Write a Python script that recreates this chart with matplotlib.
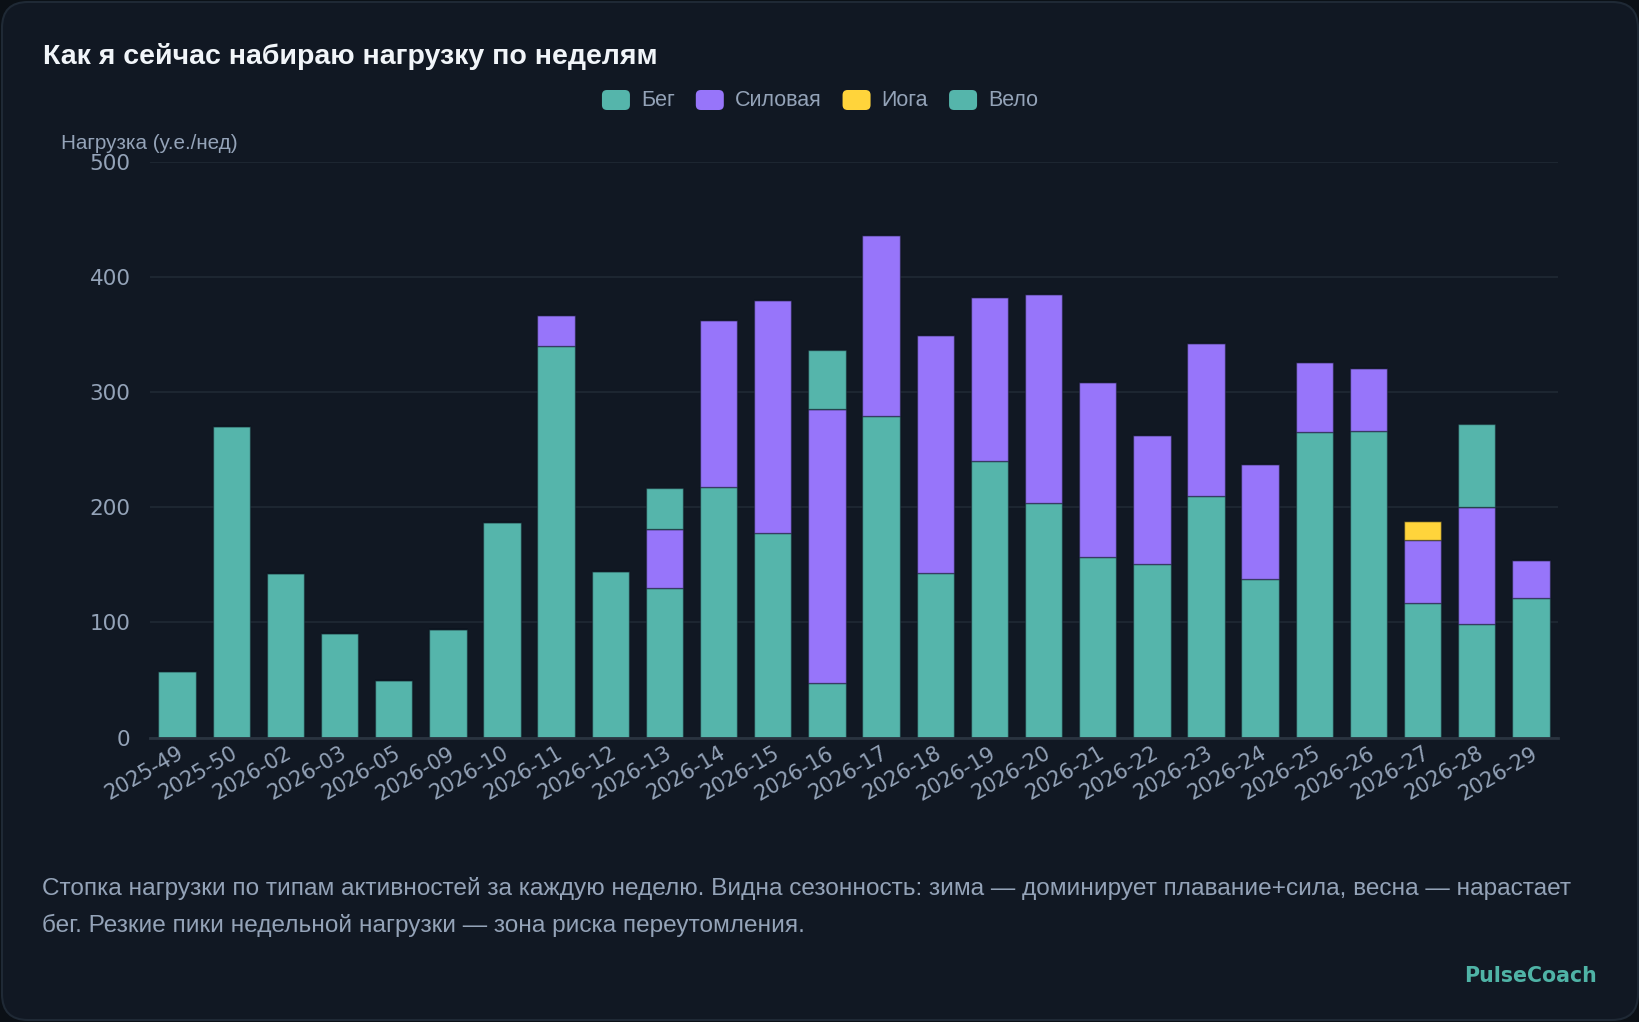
import matplotlib
matplotlib.use("Agg")
import matplotlib.pyplot as plt
import matplotlib.transforms as mtransforms
from matplotlib.patches import FancyBboxPatch
import numpy as np

# данные по неделям (читаются с графика)
weeks = ['2025-49', '2025-50', '2026-02', '2026-03', '2026-05', '2026-09', '2026-10',
         '2026-11', '2026-12', '2026-13', '2026-14', '2026-15', '2026-16', '2026-17',
         '2026-18', '2026-19', '2026-20', '2026-21', '2026-22', '2026-23', '2026-24',
         '2026-25', '2026-26', '2026-27', '2026-28', '2026-29']
run = [58, 271, 143, 91, 50, 94, 187, 340, 145, 130, 218, 178, 47, 279,
       143, 240, 204, 157, 151, 210, 138, 265, 266, 117, 99, 121]
strength = [0, 0, 0, 0, 0, 0, 0, 27, 0, 51, 145, 202, 238, 158,
            207, 143, 181, 152, 112, 133, 100, 61, 55, 55, 101, 33]
yoga = [0, 0, 0, 0, 0, 0, 0, 0, 0, 0, 0, 0, 0, 0,
        0, 0, 0, 0, 0, 0, 0, 0, 0, 16, 0, 0]
bike = [0, 0, 0, 0, 0, 0, 0, 0, 0, 36, 0, 0, 52, 0,
        0, 0, 0, 0, 0, 0, 0, 0, 0, 0, 72, 0]

series_names = ['Бег', 'Силовая', 'Иога', 'Вело']
series_colors = ['#55b5ab', '#9775fa', '#ffd43b', '#55b5ab']

title = 'Как я сейчас набираю нагрузку по неделям'
y_label = 'Нагрузка (у.е./нед)'
caption_lines = ['Стопка нагрузки по типам активностей за каждую неделю. Видна сезонность: зима — доминирует плавание+сила, весна — нарастает',
                 'бег. Резкие пики недельной нагрузки — зона риска переутомления.']
brand = 'PulseCoach'

W, H = 1640, 1022
BG_OUT = '#0b1016'
BG_CARD = '#111823'
TXT = '#94a3b8'
SANS = ['Liberation Sans', 'DejaVu Sans']

fig = plt.figure(figsize=(W / 100, H / 100), dpi=100, facecolor=BG_OUT)
px = mtransforms.IdentityTransform()

# карточка с закруглёнными углами
card = FancyBboxPatch((2, 2), W - 4, H - 4, boxstyle='round,pad=0,rounding_size=26',
                      facecolor=BG_CARD, edgecolor='#1f2935', linewidth=1.5,
                      transform=px, zorder=-10)
fig.patches.append(card)

ax = fig.add_axes([150 / W, 284.5 / H, 1408 / W, 575.5 / H])
ax.set_facecolor('none')

x = np.arange(len(weeks))
bottom = np.zeros(len(weeks))
for name, vals, col in zip(series_names, [run, strength, yoga, bike], series_colors):
    vals = np.array(vals, dtype=float)
    ax.bar(x, vals, width=0.69, bottom=bottom, color=col,
           edgecolor=(0.05, 0.08, 0.12, 0.45), linewidth=1.0, zorder=3)
    bottom += vals

ax.set_xlim(-0.5, len(weeks) - 0.5)
ax.set_ylim(0, 500)
ax.set_yticks([0, 100, 200, 300, 400, 500])
ax.grid(axis='y', color='#1d2631', linewidth=1.5, zorder=0)
for s in ['left', 'right', 'top']:
    ax.spines[s].set_visible(False)
ax.spines['bottom'].set_color('#2a3440')
ax.spines['bottom'].set_linewidth(2)
ax.spines['bottom'].set_zorder(4)

ax.set_xticks(x)
ax.set_xticklabels(weeks)
ax.tick_params(axis='y', length=0, pad=14, labelsize=15.5, labelcolor=TXT)
ax.tick_params(axis='x', length=0, pad=4, labelsize=15, labelcolor=TXT)
plt.setp(ax.get_xticklabels(), rotation=30, ha='right', va='top', rotation_mode='anchor')

# заголовок и подписи
fig.text(43, H - 64, title, transform=px, family=SANS, fontsize=20.5, fontweight='bold',
         color='#f1f5f9', va='baseline', ha='left')
fig.text(61, H - 149, y_label, transform=px, family=SANS, fontsize=14.9,
         color=TXT, va='baseline', ha='left')
for i, line in enumerate(caption_lines):
    fig.text(42, H - 895 - 36.5 * i, line, transform=px, family=SANS, fontsize=17.55,
             color=TXT, va='baseline', ha='left')
fig.text(1597, H - 982, brand, transform=px, fontsize=14.8, fontweight='bold',
         color='#4fb3a6', va='baseline', ha='right')

# легенда: квадратики со скруглением + текст, по центру
renderer = fig.canvas.get_renderer()
widths = []
for name in series_names:
    t = fig.text(0, 0, name, transform=px, family=SANS, fontsize=15.5)
    widths.append(t.get_window_extent(renderer).width)
    t.remove()
hw, hh, gap_t, gap_i = 28, 20, 11, 21
total = sum(hw + gap_t + w for w in widths) + gap_i * (len(widths) - 1)
cx = W / 2 - total / 2
for name, col, w in zip(series_names, series_colors, widths):
    fig.patches.append(FancyBboxPatch((cx, H - 110), hw, hh,
                                      boxstyle='round,pad=0,rounding_size=5',
                                      facecolor=col, edgecolor='none', transform=px))
    fig.text(cx + hw + gap_t, H - 106, name, transform=px, family=SANS, fontsize=15.5,
             color=TXT, va='baseline', ha='left')
    cx += hw + gap_t + w + gap_i

fig.savefig('out.png', dpi=100, facecolor=BG_OUT)
